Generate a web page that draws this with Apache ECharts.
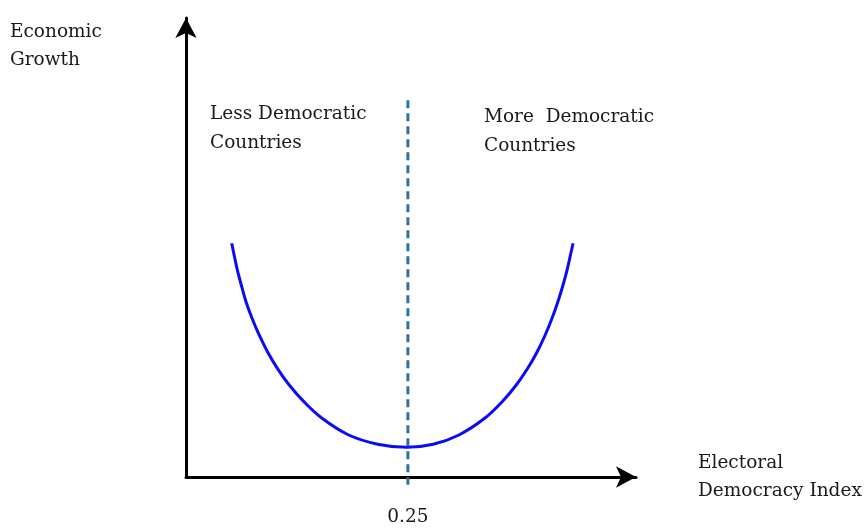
<!DOCTYPE html>
<html>
<head>
<meta charset="utf-8">
<script src="https://cdn.jsdelivr.net/npm/echarts@6/dist/echarts.min.js"></script>
<style>
  html, body { margin: 0; padding: 0; background: #fff; }
  #chart { width: 866px; height: 530px; }
</style>
</head>
<body>
<div id="chart"></div>
<script>
// U-shaped curve: electoral democracy index vs economic growth
const curveX = [0.0515, 0.0574, 0.0623, 0.0676, 0.0744, 0.0824, 0.0918, 0.1029, 0.1163, 0.1328,
                0.1533, 0.1833, 0.2159, 0.2485,
                0.2785, 0.3075, 0.3365, 0.3562, 0.3721, 0.3850, 0.3957, 0.4047, 0.4124,
                0.4190, 0.4248, 0.4298, 0.4361];
const curveY = [5.092, 4.547, 4.183, 3.819, 3.458, 3.094, 2.730, 2.368, 2.004, 1.641,
                1.279, 0.915, 0.715, 0.647,
                0.712, 0.915, 1.279, 1.641, 2.004, 2.368, 2.730, 3.094, 3.458,
                3.819, 4.183, 4.547, 5.092];
const thresholdX = 0.25;
const thresholdY = [8.21, -0.17];   // dashed divider, top and bottom
const tickLabels = [0.25];

const FONT = "'Palatino Linotype', Palatino, 'DejaVu Serif', serif";
const TXT = '#1a1a1a';
const FS = 18.5;

const chart = echarts.init(document.getElementById('chart'));

// smooth path through the projected points (catmull-rom -> bezier)
function renderCurve(params, api) {
  if (params.dataIndex !== 0) return null;
  const p = curveX.map((x, i) => api.coord([x, curveY[i]]));
  let d = 'M' + p[0][0] + ' ' + p[0][1];
  for (let i = 0; i < p.length - 1; i++) {
    const p0 = p[Math.max(i - 1, 0)];
    const p1 = p[i];
    const p2 = p[i + 1];
    const p3 = p[Math.min(i + 2, p.length - 1)];
    const c1x = p1[0] + (p2[0] - p0[0]) / 6, c1y = p1[1] + (p2[1] - p0[1]) / 6;
    const c2x = p2[0] - (p3[0] - p1[0]) / 6, c2y = p2[1] - (p3[1] - p1[1]) / 6;
    d += ' C' + c1x + ' ' + c1y + ' ' + c2x + ' ' + c2y + ' ' + p2[0] + ' ' + p2[1];
  }
  return {
    type: 'path',
    shape: { pathData: d },
    style: { fill: 'none', stroke: '#0b0bf5', lineWidth: 3 }
  };
}

const option = {
  animation: false,
  grid: { left: 186, right: 230, top: 18, bottom: 53 },
  xAxis: {
    type: 'value',
    min: 0,
    max: 0.507,
    splitLine: { show: false },
    axisTick: { show: false },
    axisLine: {
      lineStyle: { color: '#000', width: 3 },
      symbol: ['none', 'arrow'],
      symbolSize: [16, 20]
    },
    axisLabel: {
      customValues: tickLabels,
      margin: 31,
      color: TXT,
      fontFamily: FONT,
      fontSize: FS
    },
    name: 'Electoral\nDemocracy Index',
    nameLocation: 'end',
    nameGap: 62,
    nameTextStyle: {
      color: TXT,
      fontFamily: FONT,
      fontSize: FS,
      lineHeight: 28,
      align: 'left',
      padding: [6, 0, 0, 0]
    }
  },
  yAxis: {
    type: 'value',
    min: 0,
    max: 10,
    splitLine: { show: false },
    axisTick: { show: false },
    axisLabel: { show: false },
    axisLine: {
      lineStyle: { color: '#000', width: 3 },
      symbol: ['none', 'arrow'],
      symbolSize: [16, 20]
    }
  },
  graphic: [
    {
      type: 'text', left: 10, top: 18,
      style: { text: 'Economic\nGrowth', fill: TXT, font: FS + 'px ' + FONT, lineHeight: 28 }
    },
    {
      type: 'text', left: 210, top: 100,
      style: { text: 'Less Democratic\nCountries', fill: TXT, font: FS + 'px ' + FONT, lineHeight: 29 }
    },
    {
      type: 'text', left: 484, top: 103,
      style: { text: 'More  Democratic\nCountries', fill: TXT, font: FS + 'px ' + FONT, lineHeight: 29 }
    }
  ],
  series: [
    {
      type: 'custom',
      data: curveX.map((x, i) => [x, curveY[i]]),
      encode: { x: 0, y: 1 },
      renderItem: renderCurve
    },
    {
      type: 'line',
      data: thresholdY.map(y => [thresholdX, y]),
      clip: false,
      showSymbol: false,
      lineStyle: { color: '#2f72a0', width: 3, type: [8, 5] },
      z: 3
    }
  ]
};

chart.setOption(option);
</script>
</body>
</html>
